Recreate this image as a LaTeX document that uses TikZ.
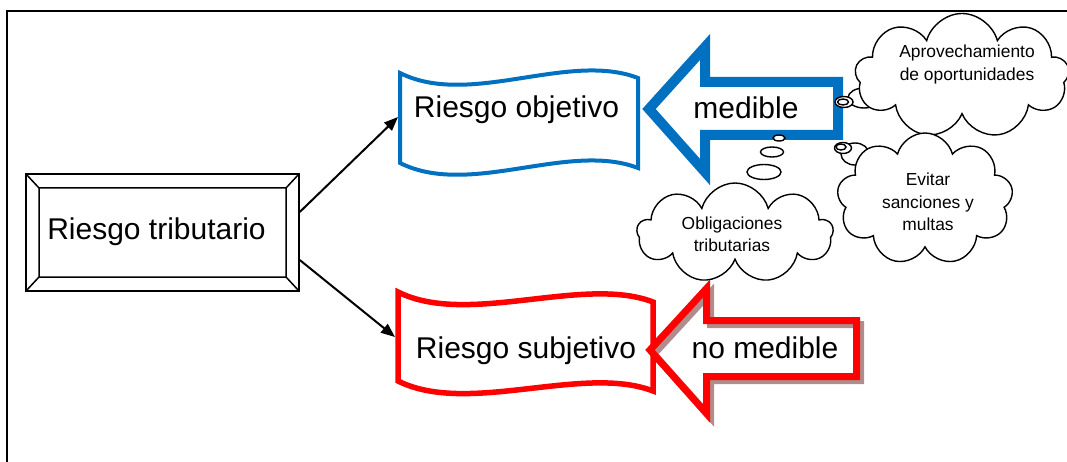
\documentclass[tikz,border=0pt]{standalone}
\usepackage{fontspec}
\setmainfont{Liberation Sans}
\usetikzlibrary{arrows.meta, shapes.symbols, shapes.geometric, calc}

\definecolor{objblue}{RGB}{0,112,192}
\definecolor{subred}{RGB}{255,0,0}
\definecolor{shadowred}{RGB}{176,140,140}

\tikzset{
  bigtext/.style={font=\fontsize{30}{36}\selectfont, inner sep=0pt, anchor=base},
  cloudtext/.style={font=\fontsize{17.4}{22.5}\selectfont, inner sep=0pt, align=center},
  thought/.style={cloud, cloud puffs=9, cloud ignores aspect, draw, line width=1.4pt,
    fill=white, inner sep=0pt},
  bubble/.style={ellipse, draw, line width=1.4pt, fill=white, inner sep=0pt},
  link/.style={-{Triangle[length=14pt,width=11pt]}, line width=2pt}
}

\begin{document}
\begin{tikzpicture}[x=1pt, y=-1pt]
  \useasboundingbox (0,0) rectangle (1067,462);
  \draw[line width=1.5pt] (7,462) -- (7,11) -- (1067,11);

  % bevelled box
  \node[draw, line width=1.5pt, minimum width=273pt, minimum height=117pt] (trib) at (162.5,232.5) {};
  \draw[line width=1.5pt] (39,188) rectangle (286,277)
    (26,174) -- (39,188) (299,174) -- (286,188)
    (26,291) -- (39,277) (299,291) -- (286,277);
  \node[bigtext] (tribtxt) at (156.5,240) {Riesgo tributario};

  % wave banners
  \draw[objblue, line width=4pt, fill=white]
    (400,73) .. controls (470,108) and (568,51) .. (638,78) -- (638,168)
    .. controls (568,141) and (470,198) .. (400,163) -- cycle;
  \node[bigtext] (obj) at (516.5,118) {Riesgo objetivo};
  \coordinate (objL) at (398,117);

  \draw[subred, line width=5.5pt, fill=white]
    (398,292) .. controls (468,327) and (583,275) .. (653,302) -- (653,391)
    .. controls (583,364) and (468,416) .. (398,381) -- cycle;
  \node[bigtext] (sub) at (526,358) {Riesgo subjetivo};
  \coordinate (subL) at (395,337);

  \draw[link] ([yshift=20.5pt]trib.east) -- (objL);
  \draw[link] ([yshift=-27.5pt]trib.east) -- (subL);

  % block arrows
  \draw[objblue, line width=10pt, line join=miter]
    (649,109) -- (705,47) -- (705,82) -- (838,82) -- (838,135) -- (705,135) -- (705,172) -- cycle;
  \node[bigtext] (med) at (746,119) {medible};

  \draw[shadowred, line width=7pt, line join=miter, shift={(4,4)}]
    (650,350) -- (706.5,288.5) -- (706.5,320.5) -- (856.5,320.5) -- (856.5,376.5) -- (706.5,376.5) -- (706.5,413.5) -- cycle;
  \draw[subred, line width=7pt, line join=miter]
    (650,350) -- (706.5,288.5) -- (706.5,320.5) -- (856.5,320.5) -- (856.5,376.5) -- (706.5,376.5) -- (706.5,413.5) -- cycle;
  \node[bigtext] (nomed) at (765,358) {no medible};

  % thought clouds
  \node[bubble, minimum width=32pt, minimum height=20pt] (aprovb) at (864,98) {};
  \node[bubble, minimum width=28pt, minimum height=22pt] (evitb) at (855,154) {};
  \node[thought, minimum width=214pt, minimum height=125pt] (aprov) at (962,76) {};
  \node[thought, minimum width=176pt, minimum height=132pt] (evit) at (925,199) {};
  \node[thought, minimum width=196pt, minimum height=100pt] (oblig) at (735,233) {};

  \node[bubble, minimum width=18pt, minimum height=11pt] (aprova) at (844,102) {};
  \node[bubble, minimum width=11pt, minimum height=6pt] (aprovi) at (843,102) {};
  \node[bubble, minimum width=17pt, minimum height=11pt] (evita) at (843,148) {};
  \node[bubble, minimum width=10pt, minimum height=6pt] (eviti) at (841,147) {};
  \node[bubble, minimum width=12pt, minimum height=6pt] (obliga) at (779,138) {};
  \node[bubble, minimum width=23pt, minimum height=10pt] (obligb) at (772,152) {};
  \node[bubble, minimum width=34pt, minimum height=15pt] (obligc) at (764,172) {};

  \node[cloudtext] (aprovtxt) at (967,64.5) {Aprovechamiento\\de oportunidades};
  \node[cloudtext] (evittxt) at (928,202) {Evitar\\sanciones y\\multas};
  \node[cloudtext] (obligtxt) at (732,234.5) {Obligaciones\\tributarias};
\end{tikzpicture}
\end{document}
